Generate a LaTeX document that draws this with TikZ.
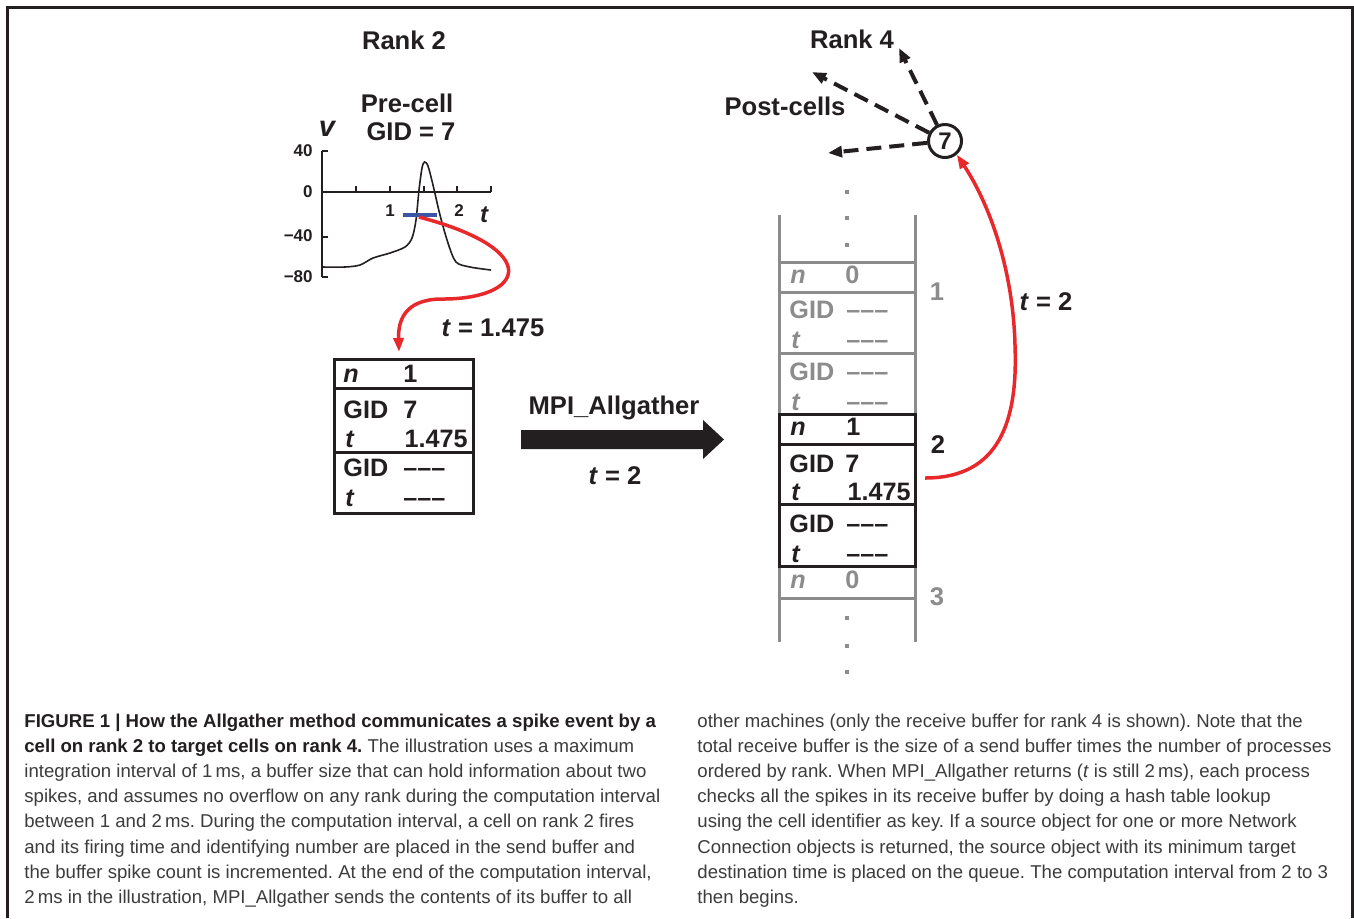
\documentclass[tikz,border=0pt]{standalone}
\usepackage{fontspec}
\setmainfont{Liberation Sans}
\usetikzlibrary{arrows.meta}
\definecolor{ink}{HTML}{231F20}
\definecolor{redc}{HTML}{E8282B}
\definecolor{bluec}{HTML}{3A56A5}
\definecolor{grayc}{HTML}{8C8C8C}
\definecolor{captxt}{HTML}{3C3C3C}
\frenchspacing
\begin{document}
\begin{tikzpicture}[x=0.5pt,y=-0.5pt,
  lab/.style={font=\fontsize{12.8}{15}\selectfont\bfseries, text=ink, inner sep=0pt},
  ticklab/.style={font=\fontsize{8.5}{10}\selectfont\bfseries, text=ink, inner sep=0pt},
  bx/.style={font=\fontsize{12.6}{15}\selectfont\bfseries, text=ink, inner sep=0pt, anchor=base west},
  bxr/.style={bx, anchor=base east},
  gx/.style={bx, text=grayc},
  gxr/.style={bxr, text=grayc},
  idx/.style={font=\fontsize{12.8}{15}\selectfont\bfseries, inner sep=0pt, anchor=base},
  captext/.style={font=\fontsize{9.3}{12}\selectfont, text=captxt, inner sep=0pt, anchor=base west},
  redarrow/.style={draw=redc, line width=1.75pt, -{Triangle[length=7pt,width=5pt]}},
  dasharrow/.style={draw=ink, line width=2pt, dash pattern=on 7.5pt off 4pt, -{Triangle[length=7pt,width=5.5pt]}},
  outerframe/.style={draw=ink, line width=1.5pt},
  grayline/.style={draw=grayc, line width=1.5pt},
  boxline/.style={draw=ink, line width=1.5pt},
  axisline/.style={draw=ink, line width=1pt},
  gdot/.style={fill=grayc, minimum size=2pt, inner sep=0pt, rectangle}
]
\useasboundingbox (0,0) rectangle (1354,918);
\fill[white] (0,0) rectangle (1354,918);
\draw[outerframe] (7.5,918) -- (7.5,7.5) -- (1352.5,7.5) -- (1352.5,918);

% ---------- Rank 2 ----------
\node[lab, anchor=base] (rank2) at (404,49) {Rank 2};
\node[lab, anchor=base] (precell) at (407,112) {Pre-cell};
\node[lab, anchor=base] (pregid) at (411,140) {GID = 7};
\node[font=\fontsize{14.5}{16}\selectfont\bfseries\itshape, text=ink, inner sep=0pt, anchor=base] (vlab) at (327,136) {v};

% axes
\draw[axisline] (322,151) -- (322,277);
\foreach \y in {151,237,277} \draw[axisline] (322,\y) -- (328,\y);
\draw[axisline] (322,192) -- (491,192);
\foreach \x in {356,390,424,457,491} \draw[axisline] (\x,192) -- (\x,186);
\node[ticklab, anchor=east] (y40) at (313,151) {40};
\node[ticklab, anchor=east] (y0) at (313,192) {0};
\node[ticklab, anchor=east] (ym40) at (313,236) {−40};
\node[ticklab, anchor=east] (ym80) at (313,277) {−80};
\node[ticklab] (x1) at (390,211) {1};
\node[ticklab] (x2) at (459,211) {2};
\node[font=\fontsize{12}{14}\selectfont\bfseries\itshape, text=ink, inner sep=0pt, anchor=base] (tlab) at (484,222) {t};

% voltage trace
\draw[ink, line width=0.8pt] plot[smooth, tension=0.5] coordinates {(322,267) (345,267) (360,265) (373,258) (390,253) (405,247) (412,238) (416,220) (419,190) (422,168) (424.5,162) (428,166) (433,185) (440,215) (448,243) (456,262) (470,267) (491,270)};
\draw[bluec, line width=1.6pt] (403,215) -- (437,215);
\coordinate (spike) at (419,217);

% send buffer
\draw[boxline] (334,359) rectangle (473,513);
\draw[boxline] (334,388) -- (473,388);
\draw[boxline] (334,452) -- (473,452);
\node[bx] (sn) at (343,382) {\textit{n}};
\node[bx] (snv) at (403,382) {1};
\node[bx] (sg1) at (343,418) {GID};
\node[bx] (sg1v) at (403,418) {7};
\node[bx] (st1) at (345,447) {\textit{t}};
\node[bxr] (st1v) at (468,447) {1.475};
\node[bx] (sg2) at (343,476) {GID};
\node[bx] (sg2v) at (403,476) {–––};
\node[bx] (st2) at (345,506) {\textit{t}};
\node[bx] (st2v) at (403,506) {–––};
\coordinate (sendtop) at (399,352);

\draw[redarrow] (spike) .. controls (545,250) and (525,300) .. (440,299) .. controls (405,300) and (398,320) .. (sendtop);
\node[lab, anchor=base] (t1475) at (493,336) {\textit{t} = 1.475};

% big arrow
\fill[ink] (521,430) -- (703,430) -- (703,420) -- (724,439.5) -- (703,459) -- (703,449) -- (521,449) -- cycle;
\node[lab, anchor=base] (mpi) at (614,414) {MPI\_Allgather};
\node[lab, anchor=base] (tmid) at (615,484) {\textit{t} = 2};

% ---------- Rank 4 ----------
\node[lab, anchor=base] (rank4) at (852,48) {Rank 4};
\node[lab, anchor=base] (post) at (785,115) {Post-cells};
\node[draw=ink, circle, line width=1.5pt, minimum size=16.5pt, inner sep=0pt, font=\fontsize{12}{14}\selectfont\bfseries, text=ink] (c7) at (945,141) {7};
\coordinate (p1) at (899,48);
\coordinate (p2) at (812,72);
\coordinate (p3) at (828,153);
\draw[dasharrow] (c7) -- (p1);
\draw[dasharrow] (c7) -- (p2);
\draw[dasharrow] (c7) -- (p3);

% receive buffer
\draw[grayline] (779,215) -- (779,642);
\draw[grayline] (915,215) -- (915,642);
\foreach \y in {262,292,353,598} \draw[grayline] (779,\y) -- (915,\y);
\draw[boxline] (779,414) rectangle (915,566);
\draw[boxline] (779,444) -- (915,444);
\draw[boxline] (779,504) -- (915,504);

\foreach \y [count=\i] in {192,218,245,618,646,672} \node[gdot] (d\i) at (847,\y) {};

\node[gx] (rn0) at (790,283) {\textit{n}};
\node[gx] (rn0v) at (845,283) {0};
\node[gx] (rg1) at (789,318) {GID};
\node[gx] (rg1v) at (846,318) {–––};
\node[gx] (rt1) at (791,348) {\textit{t}};
\node[gx] (rt1v) at (846,348) {–––};
\node[gx] (rg2) at (789,380) {GID};
\node[gx] (rg2v) at (846,380) {–––};
\node[gx] (rt2) at (791,410) {\textit{t}};
\node[gx] (rt2v) at (846,410) {–––};

\node[bx] (bn) at (790,435) {\textit{n}};
\node[bx] (bnv) at (846,435) {1};
\node[bx] (bg1) at (789,472) {GID};
\node[bx] (bg1v) at (845,472) {7};
\node[bx] (bt1) at (791,500) {\textit{t}};
\node[bxr] (bt1v) at (911,500) {1.475};
\node[bx] (bg2) at (789,532) {GID};
\node[bx] (bg2v) at (846,532) {–––};
\node[bx] (bt2) at (791,562) {\textit{t}};
\node[bx] (bt2v) at (846,562) {–––};

\node[gx] (ln) at (790,588) {\textit{n}};
\node[gx] (lnv) at (845,588) {0};

\node[idx, text=grayc] (i1) at (937,300) {1};
\node[idx, text=ink] (i2) at (938,453) {2};
\node[idx, text=grayc] (i3) at (937,605) {3};

\coordinate (recvout) at (925,478);
\draw[redarrow] (recvout) .. controls (1000,478) and (1018,420) .. (1015,345) .. controls (1013,270) and (990,205) .. (c7.-49);
\node[lab, anchor=base] (t2r) at (1046,310) {\textit{t} = 2};

% ---------- caption ----------
\node[captext] (l1) at (24,727) {\textbf{\color{ink}FIGURE 1 | How the Allgather method communicates a spike event by a}};
\node[captext] (l2) at (24,752.2) {\textbf{\color{ink}cell on rank 2 to target cells on rank 4.} The illustration uses a maximum};
\node[captext] (l3) at (24,777.4) {integration interval of 1\,ms, a buffer size that can hold information about two};
\node[captext] (l4) at (24,802.6) {spikes, and assumes no overflow on any rank during the computation interval};
\node[captext] (l5) at (24,827.8) {between 1 and 2\,ms. During the computation interval, a cell on rank 2 fires};
\node[captext] (l6) at (24,853) {and its firing time and identifying number are placed in the send buffer and};
\node[captext] (l7) at (24,878.2) {the buffer spike count is incremented. At the end of the computation interval,};
\node[captext] (l8) at (24,903.4) {2\,ms in the illustration, MPI\_Allgather sends the contents of its buffer to all};

\node[captext] (r1) at (697,727) {other machines (only the receive buffer for rank 4 is shown). Note that the};
\node[captext] (r2) at (697,752.2) {total receive buffer is the size of a send buffer times the number of processes};
\node[captext] (r3) at (697,777.4) {ordered by rank. When MPI\_Allgather returns (\textit{t} is still 2\,ms), each process};
\node[captext] (r4) at (697,802.6) {checks all the spikes in its receive buffer by doing a hash table lookup};
\node[captext] (r5) at (697,827.8) {using the cell identifier as key. If a source object for one or more Network};
\node[captext] (r6) at (697,853) {Connection objects is returned, the source object with its minimum target};
\node[captext] (r7) at (697,878.2) {destination time is placed on the queue. The computation interval from 2 to 3};
\node[captext] (r8) at (697,903.4) {then begins.};
\end{tikzpicture}
\end{document}
